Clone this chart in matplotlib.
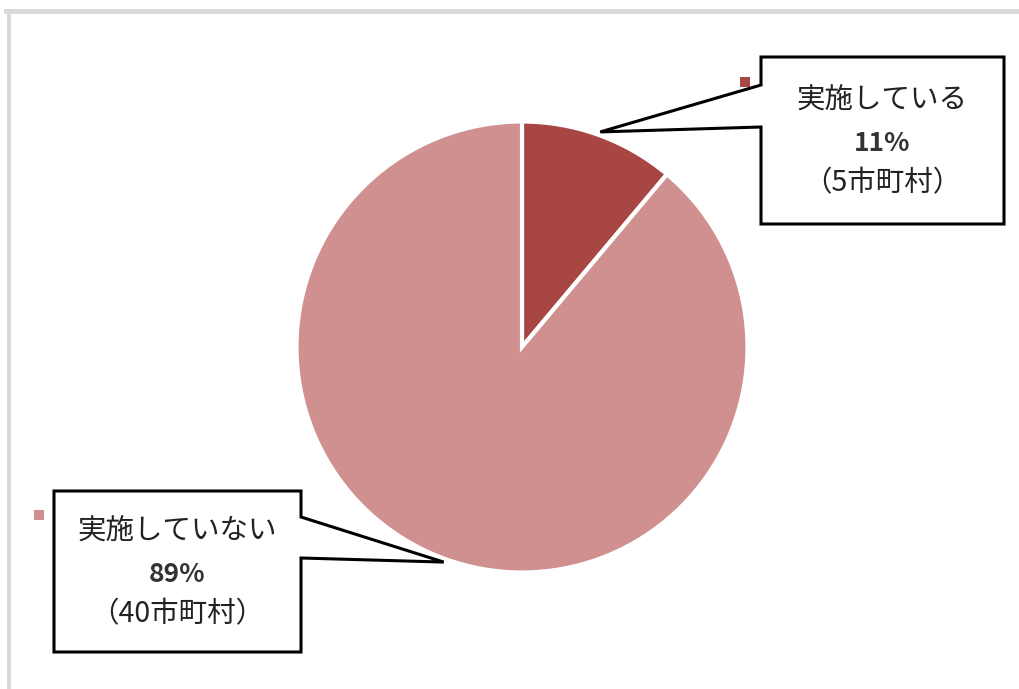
import numpy as np
import matplotlib
matplotlib.use("Agg")
import matplotlib.pyplot as plt
from matplotlib.patches import Polygon, Rectangle

plt.rcParams['font.family'] = ['Noto Sans CJK JP', 'DejaVu Sans']

# data
categories = ['実施している', '実施していない']
percents = ['11%', '89%']
counts = [5, 40]
count_labels = ['（5市町村）', '（40市町村）']
colors = ['#A84644', '#D09090']

W, H = 1019, 689
fig = plt.figure(figsize=(W / 100, H / 100), dpi=100)
ax = fig.add_axes([0, 0, 1, 1])
ax.set_xlim(0, W)
ax.set_ylim(0, H)
ax.axis('off')

def Y(y):
    return H - y

cx, cy, R = 522, Y(347), 225.5
wedges, _ = ax.pie(counts, colors=colors, startangle=90, counterclock=False,
                   center=(cx, cy), radius=R,
                   wedgeprops=dict(edgecolor='white', linewidth=3))
ax.set_xlim(0, W)
ax.set_ylim(0, H)
ax.set_aspect('auto')

# callout boxes: (left, top, right, bottom) in pixel coords, pointer base y's
boxes = [
    dict(box=(761, 57, 1004, 224), base=(85, 127), side='left', mark=(745, 82)),
    dict(box=(54, 491, 301, 652), base=(517, 558), side='right', mark=(39, 515)),
]

for i, w in enumerate(wedges):
    mid = np.deg2rad((w.theta1 + w.theta2) / 2)
    tip = (cx + 1.015 * R * np.cos(mid), cy + 1.015 * R * np.sin(mid))
    l, t, r, b = boxes[i]['box']
    b1, b2 = boxes[i]['base']
    if boxes[i]['side'] == 'left':
        pts = [(l, Y(t)), (r, Y(t)), (r, Y(b)), (l, Y(b)), (l, Y(b2)), tip, (l, Y(b1))]
    else:
        pts = [(l, Y(t)), (r, Y(t)), (r, Y(b1)), tip, (r, Y(b2)), (r, Y(b)), (l, Y(b))]
    ax.add_patch(Polygon(pts, closed=True, facecolor='white', edgecolor='black',
                         linewidth=2.2, joinstyle='miter', zorder=5))
    xc = (l + r) / 2
    yc = (t + b) / 2
    ax.text(xc, Y(yc - 40), categories[i], ha='center', va='center', fontsize=20.5,
            color='#222222', zorder=6)
    ax.text(xc, Y(yc + 3), percents[i], ha='center', va='center', fontsize=19,
            fontweight='bold', color='#333333', zorder=6)
    ax.text(xc, Y(yc + 43), count_labels[i], ha='center', va='center', fontsize=20.5,
            color='#222222', zorder=6)
    mx, my = boxes[i]['mark']
    ax.add_patch(Rectangle((mx - 5, Y(my) - 5), 10, 10, facecolor=colors[i],
                           edgecolor='none', zorder=6))

# outer frame (light gray, left and top visible)
fig.patches.append(Rectangle((7 / W, 0), 4 / W, (H - 9) / H, transform=fig.transFigure,
                             facecolor='#D9D9D9', edgecolor='none'))
fig.patches.append(Rectangle((4 / W, (H - 14) / H), (W - 4) / W, 5 / H, transform=fig.transFigure,
                             facecolor='#D9D9D9', edgecolor='none'))

fig.savefig('out.png', dpi=100, facecolor='white')
